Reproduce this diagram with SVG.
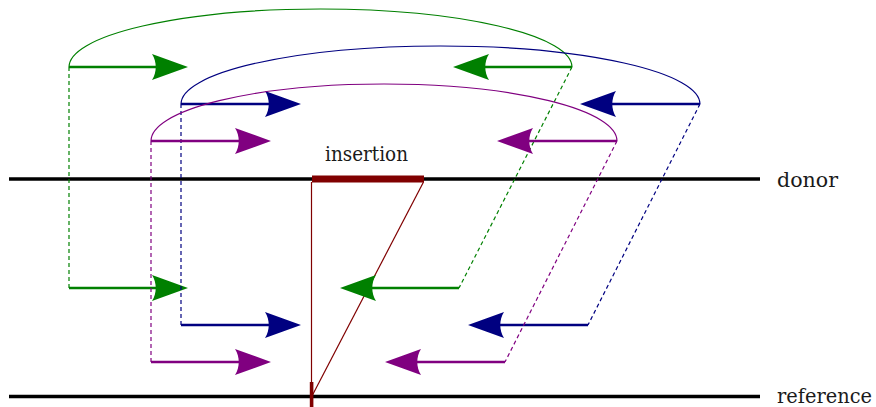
<svg xmlns="http://www.w3.org/2000/svg" width="876" height="407" viewBox="0 0 876 407">
<style>
.lbl{font-family:'DejaVu Serif',serif;font-size:20px;fill:#1a1a1a}
.seq{stroke:#000;stroke-width:3.5;fill:none}
.ins{stroke:#800000;fill:none}
.arr{stroke-width:2.6;fill:none}
.arc{stroke-width:1.2;fill:none}
.dash{stroke-width:1.2;fill:none;stroke-dasharray:4,3}
.g{stroke:#008000}.b{stroke:#000080}.p{stroke:#800080}
</style>
<defs>
<marker id="mg" markerUnits="userSpaceOnUse" viewBox="-6 -14 38 28" markerWidth="38" markerHeight="28" refX="0" refY="0" orient="auto"><path d="M-5,-13 C0,-5 0,5 -5,13 L31,0 Z" fill="#008000"/></marker>
<marker id="mb" markerUnits="userSpaceOnUse" viewBox="-6 -14 38 28" markerWidth="38" markerHeight="28" refX="0" refY="0" orient="auto"><path d="M-5,-13 C0,-5 0,5 -5,13 L31,0 Z" fill="#000080"/></marker>
<marker id="mp" markerUnits="userSpaceOnUse" viewBox="-6 -14 38 28" markerWidth="38" markerHeight="28" refX="0" refY="0" orient="auto"><path d="M-5,-13 C0,-5 0,5 -5,13 L31,0 Z" fill="#800080"/></marker>
</defs>
<g id="donor">
<line class="seq" x1="9" y1="179" x2="760" y2="179"/>
<text class="lbl" x="777" y="187" textLength="61" lengthAdjust="spacingAndGlyphs">donor</text>
</g>
<g id="reference">
<line class="seq" x1="9" y1="396.5" x2="760" y2="396.5"/>
<text class="lbl" x="777" y="403" textLength="95" lengthAdjust="spacingAndGlyphs">reference</text>
</g>
<g id="insertion">
<rect x="312" y="175.5" width="112" height="7" fill="#800000"/>
<text class="lbl" x="325" y="161" textLength="83" lengthAdjust="spacingAndGlyphs">insertion</text>
<rect x="309.8" y="382" width="3.6" height="25" fill="#800000"/>
</g>
<g id="connectors">
<line class="ins" stroke-width="1.2" x1="311.5" y1="182" x2="311.5" y2="396"/>
<line class="ins" stroke-width="1.2" x1="423.5" y1="182" x2="312" y2="396"/>
<g id="pair-green">
<path class="arc g" d="M69,67 A251.5,58 0 0 1 572,67"/>
<line class="arr g" x1="69" y1="67" x2="157" y2="67" marker-end="url(#mg)"/>
<line class="arr g" x1="572" y1="67" x2="484" y2="67" marker-end="url(#mg)"/>
<line class="dash g" x1="69" y1="67" x2="69" y2="288"/>
<line class="dash g" x1="572" y1="67" x2="459" y2="288"/>
<line class="arr g" x1="69" y1="288" x2="157" y2="288" marker-end="url(#mg)"/>
<line class="arr g" x1="459" y1="288" x2="371" y2="288" marker-end="url(#mg)"/>
</g>
<g id="pair-blue">
<path class="arc b" d="M181,104 A259.5,58 0 0 1 700,104"/>
<line class="arr b" x1="181" y1="104" x2="270" y2="104" marker-end="url(#mb)"/>
<line class="arr b" x1="700" y1="104" x2="611" y2="104" marker-end="url(#mb)"/>
<line class="dash b" x1="181" y1="104" x2="181" y2="325"/>
<line class="dash b" x1="700" y1="104" x2="588" y2="325"/>
<line class="arr b" x1="181" y1="325" x2="270" y2="325" marker-end="url(#mb)"/>
<line class="arr b" x1="588" y1="325" x2="499" y2="325" marker-end="url(#mb)"/>
</g>
<g id="pair-purple">
<path class="arc p" d="M151,141 A233,57 0 0 1 617,141"/>
<line class="arr p" x1="151" y1="141" x2="240" y2="141" marker-end="url(#mp)"/>
<line class="arr p" x1="617" y1="141" x2="528" y2="141" marker-end="url(#mp)"/>
<line class="dash p" x1="151" y1="141" x2="151" y2="362"/>
<line class="dash p" x1="617" y1="141" x2="505" y2="362"/>
<line class="arr p" x1="151" y1="362" x2="240" y2="362" marker-end="url(#mp)"/>
<line class="arr p" x1="505" y1="362" x2="416" y2="362" marker-end="url(#mp)"/>
</g>
</g>
</svg>
